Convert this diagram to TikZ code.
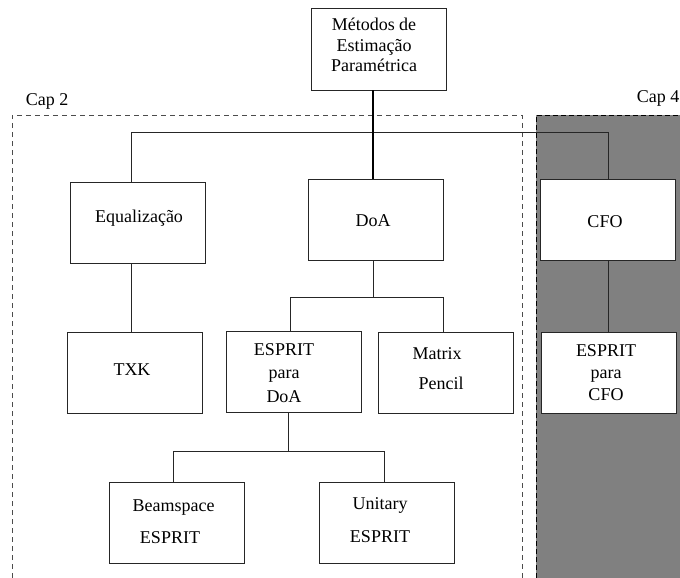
\documentclass[tikz,border=0pt]{standalone}
\usepackage{fontspec}
\setmainfont{Liberation Serif}
\begin{document}
\begin{tikzpicture}[x=1pt,y=-1pt,
  box/.style={draw=black!85,line width=0.9pt,fill=white,minimum width=135pt,minimum height=81pt,inner sep=0pt},
  txt/.style={inner sep=0pt,align=center,font=\fontsize{18}{22}\selectfont},
  conn/.style={draw=black!85,line width=0.9pt},
  capframe/.style={draw=black!70,line width=0.9pt,dash pattern=on 5pt off 4pt},
  grayframe/.style={draw=black,line width=0.9pt,dash pattern=on 5pt off 3pt}]
\useasboundingbox (0,0) rectangle (680,578);
% regions
\fill[fill={rgb,255:red,128;green,128;blue,128}] (536,115) rectangle (680,578);
\draw[grayframe] (536,578) -- (536,115) -- (680,115);
\draw[capframe] (12,578) -- (12,115) -- (522,115) -- (522,578);
\node[txt,anchor=center] (cap2) at (47,101) {Cap 2};
\node[txt,anchor=east] (cap4) at (679.5,98) {Cap 4};
% boxes
\node[box,minimum height=82pt] (top) at (378.5,49) {};
\node[box] (eq) at (137.5,222.5) {};
\node[box] (doa) at (376,220) {};
\node[box] (cfo) at (608,219.5) {};
\node[box] (txk) at (134.5,372.5) {};
\node[box] (espd) at (294,372) {};
\node[box] (mp) at (445.5,372.5) {};
\node[box] (espc) at (609,373) {};
\node[box] (beam) at (176.5,522.5) {};
\node[box] (unit) at (386.5,522.5) {};
% texts
\node[txt,font=\fontsize{18}{20.5}\selectfont] (topt) at (374,45) {Métodos de\\Estimação\\Paramétrica};
\node[txt] (eqt) at (139,218) {Equalização};
\node[txt] (doat) at (373,221) {DoA};
\node[txt] (cfot) at (605,222) {CFO};
\node[txt] (txkt) at (132,370) {TXK};
\node[txt,font=\fontsize{18}{23.5}\selectfont] (espdt) at (284,373) {ESPRIT\\para\\DoA};
\node[txt,font=\fontsize{18}{30}\selectfont] (mpt) at (437,369) {Matrix\\\hspace*{8pt}Pencil};
\node[txt,font=\fontsize{18}{22}\selectfont] (espct) at (606,373) {ESPRIT\\para\\CFO};
\node[txt,font=\fontsize{18}{32}\selectfont] (beamt) at (170,522) {\hspace*{7pt}Beamspace\\ESPRIT};
\node[txt,font=\fontsize{18}{33}\selectfont] (unitt) at (380,520) {Unitary\\ESPRIT};
% connectors
\draw[conn] ([xshift=-6.5pt]eq.north) |- ([yshift=46pt]cfo.north) -- (cfo.north);
\draw[draw=black,line width=2pt] ([xshift=-6pt]top.south) -- ([xshift=-3.5pt]doa.north);
\draw[conn] ([xshift=-6.5pt]eq.south) -- ([xshift=-3.5pt]txk.north);
\draw[conn] ([xshift=-3pt]doa.south) -- ++(0,-37pt);
\draw[conn] ([xshift=-4pt]espd.north) |- ([xshift=-2.5pt,yshift=34pt]mp.north) -- ([xshift=-2.5pt]mp.north);
\draw[conn] (cfo.south) -- ([xshift=-1pt]espc.north);
\draw[conn] ([xshift=-6pt]espd.south) -- ++(0,-39pt);
\draw[conn] ([xshift=-3.5pt]beam.north) |- ([xshift=-2.5pt,yshift=30pt]unit.north) -- ([xshift=-2.5pt]unit.north);
\end{tikzpicture}
\end{document}
